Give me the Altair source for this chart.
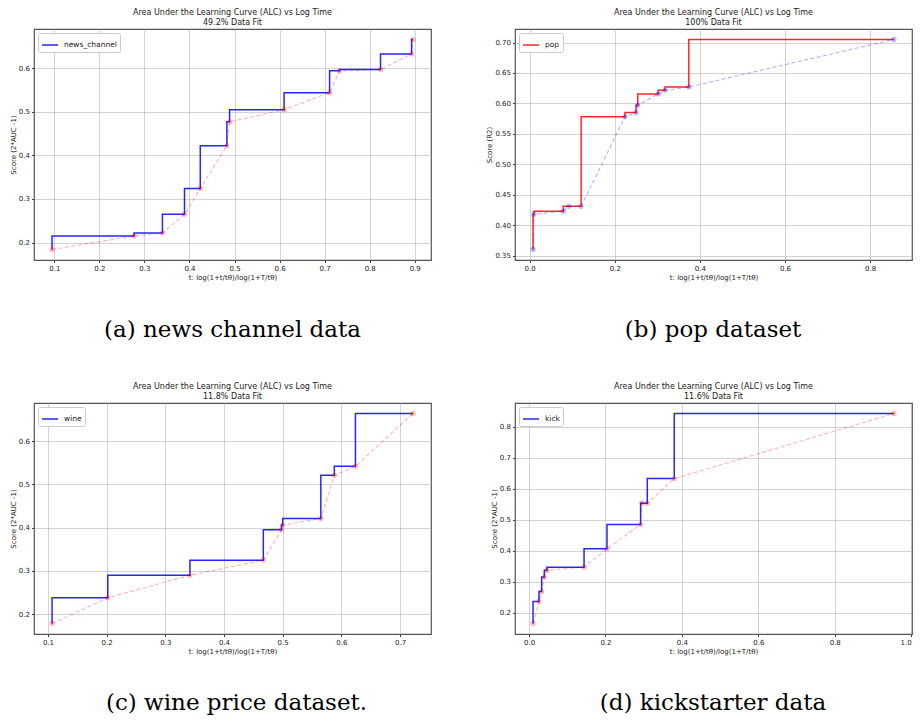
import altair as alt
import pandas as pd

TITLE1 = "Area Under the Learning Curve (ALC) vs Log Time"
XTITLE = "t: log(1+t/tθ)/log(1+T/tθ)"

# (a) news channel
news_x = [0.095, 0.277, 0.340, 0.389, 0.424, 0.483, 0.489, 0.610, 0.711, 0.733, 0.824, 0.893, 0.896]
news_y = [0.184, 0.215, 0.222, 0.265, 0.324, 0.422, 0.477, 0.505, 0.544, 0.594, 0.597, 0.633, 0.666]
news_xticks = [0.1, 0.2, 0.3, 0.4, 0.5, 0.6, 0.7, 0.8, 0.9]
news_yticks = [0.2, 0.3, 0.4, 0.5, 0.6]

# (b) pop
pop_x = [0.008, 0.010, 0.079, 0.092, 0.121, 0.224, 0.250, 0.254, 0.302, 0.318, 0.374, 0.856]
pop_y = [0.360, 0.418, 0.423, 0.431, 0.431, 0.578, 0.585, 0.597, 0.6155, 0.6215, 0.627, 0.705]
pop_xticks = [0.0, 0.2, 0.4, 0.6, 0.8]
pop_yticks = [0.35, 0.40, 0.45, 0.50, 0.55, 0.60, 0.65, 0.70]

# (c) wine
wine_x = [0.107, 0.202, 0.342, 0.467, 0.498, 0.500, 0.565, 0.588, 0.624, 0.722]
wine_y = [0.1785, 0.238, 0.290, 0.325, 0.395, 0.406, 0.421, 0.521, 0.542, 0.664]
wine_xticks = [0.1, 0.2, 0.3, 0.4, 0.5, 0.6, 0.7]
wine_yticks = [0.2, 0.3, 0.4, 0.5, 0.6]

# (d) kickstarter
kick_x = [0.0105, 0.026, 0.033, 0.040, 0.047, 0.144, 0.204, 0.292, 0.2955, 0.3095, 0.380, 0.955]
kick_y = [0.165, 0.236, 0.268, 0.315, 0.337, 0.347, 0.406, 0.4845, 0.554, 0.553, 0.633, 0.843]
kick_xticks = [0.0, 0.2, 0.4, 0.6, 0.8, 1.0]
kick_yticks = [0.2, 0.3, 0.4, 0.5, 0.6, 0.7, 0.8]

W, H = 397, 231


def padded(vals):
    lo, hi = min(vals), max(vals)
    m = 0.05 * (hi - lo)
    return [lo - m, hi + m]


def panel(xs, ys, name, step_color, dash_color, fit, ytitle, xticks, yticks,
          xfmt, yfmt, caption, cap_x, cap_y, flush=False):
    df = pd.DataFrame({"t": xs, "score": ys, "series": [name] * len(xs)})
    x = alt.X("t:Q", scale=alt.Scale(domain=padded(xs), nice=False, zero=False),
              axis=alt.Axis(values=xticks, format=xfmt, title=XTITLE, labelFlush=flush))
    y = alt.Y("score:Q", scale=alt.Scale(domain=padded(ys), nice=False, zero=False),
              axis=alt.Axis(values=yticks, format=yfmt, title=ytitle))
    base = alt.Chart(df)
    dash = base.mark_line(color=dash_color, opacity=0.3, strokeDash=[4, 2.5],
                          strokeWidth=1.1).encode(x=x, y=y)
    step = base.mark_line(interpolate="step-before", strokeWidth=1.5, opacity=0.85).encode(
        x=x, y=y,
        color=alt.Color("series:N", scale=alt.Scale(domain=[name], range=[step_color]),
                        legend=alt.Legend(title=None, orient="top-left")))
    pts = base.mark_point(filled=True, color=dash_color, opacity=0.28, size=28).encode(x=x, y=y)
    cap = alt.Chart(pd.DataFrame({"caption": [caption]})).mark_text(
        font="DejaVu Serif", fontSize=23, align="center", baseline="alphabetic", color="black"
    ).encode(text="caption:N", x=alt.value(cap_x), y=alt.value(cap_y))
    return alt.layer(dash, step, pts, cap).properties(
        width=W, height=H, title=alt.TitleParams(text=[TITLE1, fit]))


pa = panel(news_x, news_y, "news_channel", "#0000ff", "#ff0000", "49.2% Data Fit",
           "Score (2*AUC -1)", news_xticks, news_yticks, ".1f", ".1f",
           "(a) news channel data", 198.5, H + 77)
pb = panel(pop_x, pop_y, "pop", "#ff0000", "#0000ff", "100% Data Fit",
           "Score (R2)", pop_xticks, pop_yticks, ".1f", ".2f",
           "(b) pop dataset", 198, H + 77)
pc = panel(wine_x, wine_y, "wine", "#0000ff", "#ff0000", "11.8% Data Fit",
           "Score (2*AUC -1)", wine_xticks, wine_yticks, ".1f", ".1f",
           "(c) wine price dataset.", 202.5, H + 76)
pd_ = panel(kick_x, kick_y, "kick", "#0000ff", "#ff0000", "11.6% Data Fit",
            "Score (2*AUC -1)", kick_xticks, kick_yticks, ".1f", ".1f",
            "(d) kickstarter data", 198, H + 76, flush=True)

chart = alt.concat(
    pa, pb, pc, pd_, columns=2, spacing={"row": 143, "column": 84}, bounds="flush"
).resolve_scale(
    color="independent"
).configure_view(
    stroke="#555555", strokeWidth=1.2
).configure_axis(
    labelFont="DejaVu Sans", labelFontSize=7, labelColor="#222222",
    titleFont="DejaVu Sans", titleFontSize=7, titleFontWeight="normal", titleColor="#222222",
    tickSize=2.5, tickColor="#444444", domain=False,
    gridColor="#b0b0b0", gridOpacity=0.7, gridWidth=0.8,
    labelPadding=2, titlePadding=2
).configure_title(
    font="DejaVu Sans", fontSize=8, fontWeight="normal", color="#1a1a1a",
    offset=2, lineHeight=10, anchor="middle"
).configure_legend(
    labelFont="DejaVu Sans", labelFontSize=7.5, labelColor="#222222",
    symbolType="stroke", symbolSize=256, symbolStrokeWidth=1.5,
    strokeColor="#cccccc", fillColor="white", padding=3, cornerRadius=2,
    offset=4, labelOffset=5
).properties(
    padding={"left": 0, "top": 0, "right": 0, "bottom": 1}
)

chart.save("out.html", embed_options={"renderer": "svg", "actions": False})
